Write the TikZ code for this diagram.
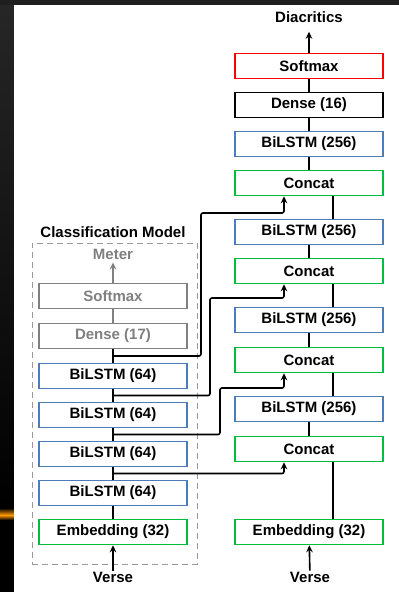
\documentclass[tikz,border=0pt]{standalone}
\usepackage{fontspec}
\setmainfont{Liberation Sans}
\usepackage{xcolor}
\usepackage{tikz}
\usetikzlibrary{arrows.meta,positioning,calc}

\definecolor{lstmblue}{RGB}{74,126,187}
\definecolor{catgreen}{RGB}{0,190,60}
\definecolor{outred}{RGB}{255,0,0}
\definecolor{clsgray}{RGB}{128,128,128}

\begin{document}
\begin{tikzpicture}[x=1pt, y=-1pt,
    box/.style={rectangle, draw, line width=1.5pt, fill=white, minimum width=148pt, minimum height=25pt, inner sep=0pt, font=\fontsize{15}{17}\selectfont\bfseries},
    label/.style={inner sep=1pt, font=\fontsize{15}{17}\selectfont\bfseries},
    arrow/.style={-{Stealth[length=7pt,width=6.5pt]}, line width=1.6pt},
    link/.style={line width=1.6pt, rounded corners=2pt},
    frame/.style={rectangle, draw=clsgray!80, dash pattern=on 6pt off 4pt, line width=1pt, minimum width=165pt, minimum height=321pt, inner sep=0pt}
]
    % Background
    \useasboundingbox (0,0) rectangle (399,592);
    \fill[black] (0,0) rectangle (399,592);
    \fill[black!88] (0,0) rectangle (399,5);
    \shade[top color=black!85, bottom color=black] (0,5) rectangle (14,505);
    \shade[top color=black, bottom color=orange!80!yellow] (0,508) rectangle (14,515);
    \shade[top color=orange!80!yellow, bottom color=black] (0,515) rectangle (14,520);
    \fill[white] (14,5) rectangle (399,592);

    % Classification model (left)
    \node[frame] (cframe) at (114.5,403.5) {};
    \node[label] (ctitle) at (113,232) {Classification Model};
    \node[label, text=clsgray] (cmeter) at (113,254) {Meter};
    \node[box, draw=clsgray, text=clsgray] (csoft) at (113,296) {Softmax};
    \node[box, draw=clsgray, text=clsgray] (cdense) at (113,336) {Dense (17)};
    \node[box, draw=lstmblue] (clstm4) at (113,376) {BiLSTM (64)};
    \node[box, draw=lstmblue] (clstm3) at (113,415) {BiLSTM (64)};
    \node[box, draw=lstmblue] (clstm2) at (113,454) {BiLSTM (64)};
    \node[box, draw=lstmblue] (clstm1) at (113,493) {BiLSTM (64)};
    \node[box, draw=catgreen] (cemb) at (113,532) {Embedding (32)};
    \node[label] (cverse) at (113,577) {Verse};

    % Diacritization model (right)
    \node[label] (diac) at (309,17) {Diacritics};
    \node[box, draw=outred] (rsoft) at (309,66) {Softmax};
    \node[box, draw=black] (rdense) at (309,105) {Dense (16)};
    \node[box, draw=lstmblue] (rlstm4) at (309,144) {BiLSTM (256)};
    \node[box, draw=catgreen] (rcat4) at (309,183) {Concat};
    \node[box, draw=lstmblue] (rlstm3) at (309,232) {BiLSTM (256)};
    \node[box, draw=catgreen] (rcat3) at (309,271) {Concat};
    \node[box, draw=lstmblue] (rlstm2) at (309,320) {BiLSTM (256)};
    \node[box, draw=catgreen] (rcat2) at (309,360) {Concat};
    \node[box, draw=lstmblue] (rlstm1) at (309,409) {BiLSTM (256)};
    \node[box, draw=catgreen] (rcat1) at (309,449) {Concat};
    \node[box, draw=catgreen] (remb) at (309,532) {Embedding (32)};
    \node[label] (rverse) at (310,577) {Verse};

    % Left stack
    \draw[arrow] (cverse) -- (cemb);
    \draw[link] (cemb) -- (clstm1);
    \draw[link] (clstm1) -- (clstm2);
    \draw[link] (clstm2) -- (clstm3);
    \draw[link] (clstm3) -- (clstm4);
    \draw[link] (clstm4) -- (cdense);
    \draw[link, clsgray] (cdense) -- (csoft);
    \draw[arrow, clsgray, shorten >=2pt] (csoft) -- (cmeter);

    % Right stack
    \draw[arrow] (rverse) -- (remb);
    \draw[link] ([xshift=24pt]remb.north) -- ([xshift=24pt]rcat1.south);
    \draw[link] (rcat1) -- (rlstm1);
    \draw[link] ([xshift=24pt]rlstm1.north) -- ([xshift=24pt]rcat2.south);
    \draw[link] (rcat2) -- (rlstm2);
    \draw[link] ([xshift=24pt]rlstm2.north) -- ([xshift=24pt]rcat3.south);
    \draw[link] (rcat3) -- (rlstm3);
    \draw[link] ([xshift=24pt]rlstm3.north) -- ([xshift=24pt]rcat4.south);
    \draw[link] (rcat4) -- (rlstm4);
    \draw[link] (rlstm4) -- (rdense);
    \draw[link] (rdense) -- (rsoft);
    \draw[arrow, shorten >=8pt] (rsoft) -- (diac);

    % Skip connections
    \coordinate (j1) at ($(cdense.south)!0.5!(clstm4.north)$);
    \coordinate (j2) at ($(clstm4.south)!0.5!(clstm3.north)$);
    \coordinate (j3) at ($(clstm3.south)!0.5!(clstm2.north)$);
    \coordinate (j4) at ($(clstm2.south)!0.5!(clstm1.north)$);
    \coordinate (w1) at (201,213);
    \coordinate (w2) at (210,298);
    \coordinate (w3) at (220,388);
    \draw[link, arrow] (j1) -| (w1) -| ([xshift=-25pt]rcat4.south);
    \draw[link, arrow] (j2) -| (w2) -| ([xshift=-25pt]rcat3.south);
    \draw[link, arrow] (j3) -| (w3) -| ([xshift=-25pt]rcat2.south);
    \draw[link, arrow] (j4) -| ([xshift=-25pt]rcat1.south);
\end{tikzpicture}
\end{document}
